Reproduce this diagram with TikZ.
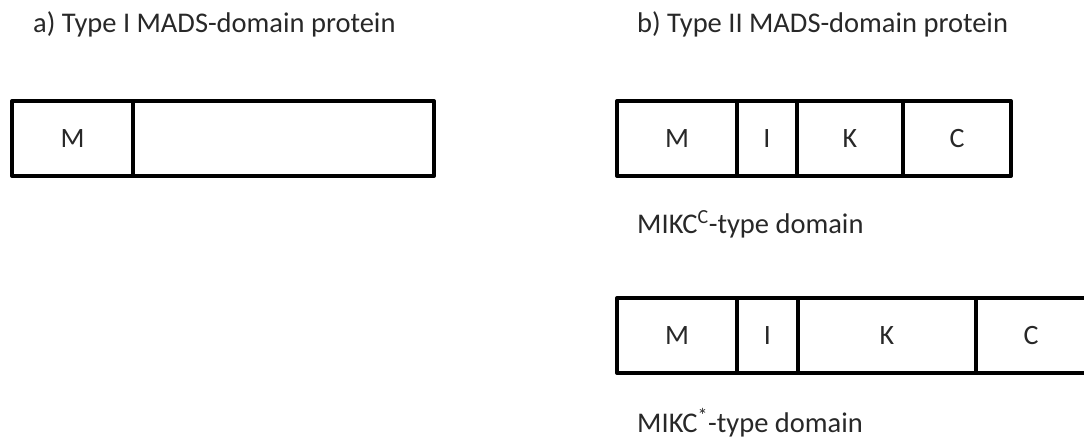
\documentclass[tikz,border=0pt]{standalone}
\usepackage{fontspec}
\setmainfont{Carlito}
\usetikzlibrary{positioning}
\definecolor{labelgray}{RGB}{40,40,40}
\tikzset{
  segbox/.style={draw, line width=4pt, line join=round, outer sep=0pt, inner sep=0pt,
    minimum height=75pt, text=labelgray, font=\fontsize{28}{33}\selectfont},
  caption/.style={anchor=base west, inner sep=0pt, text=labelgray, font=\fontsize{28.5}{33}\selectfont}
}
\begin{document}
\begin{tikzpicture}[x=1pt, y=-1pt]
	\useasboundingbox (0,0) rectangle (1084,439);
	% a) type I
	\node[caption] (titleA) at (33,32) {a) Type I MADS-domain protein};
	\node[segbox, minimum width=121pt, anchor=north west] (aM) at (12,101) {M};
	\node[segbox, minimum width=301pt, right=0pt of aM] (aRest) {};
	% b) type II, MIKC^c
	\node[caption] (titleB) at (637,32) {b) Type II MADS-domain protein};
	\node[segbox, minimum width=120pt, anchor=north west] (cM) at (617,101) {M};
	\node[segbox, minimum width=60pt, right=0pt of cM] (cI) {I};
	\node[segbox, minimum width=106pt, right=0pt of cI] (cK) {K};
	\node[segbox, minimum width=108pt, right=0pt of cK] (cC) {C};
	\node[caption] (capC) at (637,233) {MIKC\textsuperscript{C}-type domain};
	% MIKC*
	\node[segbox, minimum width=120pt, anchor=north west] (sM) at (617,298) {M};
	\node[segbox, minimum width=61pt, right=0pt of sM] (sI) {I};
	\node[segbox, minimum width=178pt, right=0pt of sI] (sK) {K};
	\node[segbox, minimum width=110pt, right=0pt of sK] (sC) {C};
	\node[caption] (capS) at (637,432) {MIKC\textsuperscript{*}-type domain};
\end{tikzpicture}
\end{document}
